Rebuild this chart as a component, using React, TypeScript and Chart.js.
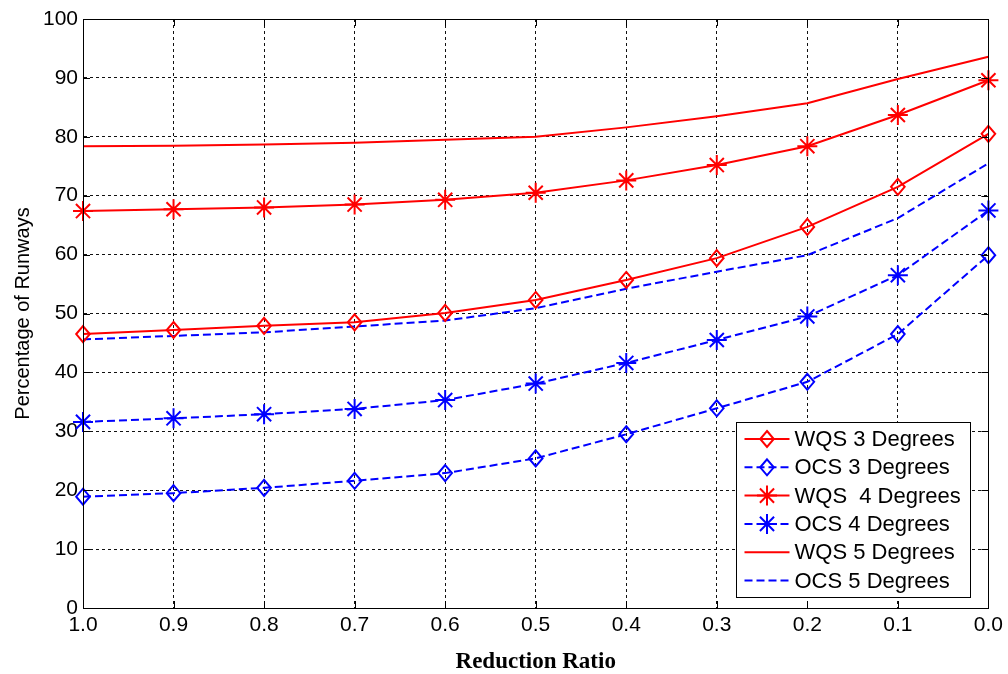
import React, { useEffect, useRef } from "react";
import { Chart, registerables } from "chart.js";

Chart.register(...registerables);

const categories = ["1.0", "0.9", "0.8", "0.7", "0.6", "0.5", "0.4", "0.3", "0.2", "0.1", "0.0"];
const wqs3 = [46.5, 47.2, 47.9, 48.5, 50.1, 52.3, 55.7, 59.4, 64.7, 71.5, 80.5];
const ocs3 = [18.9, 19.5, 20.4, 21.6, 22.9, 25.4, 29.5, 33.9, 38.4, 46.5, 59.9];
const wqs4 = [67.4, 67.7, 68.0, 68.5, 69.3, 70.5, 72.6, 75.2, 78.4, 83.7, 89.6];
const ocs4 = [31.6, 32.2, 32.9, 33.8, 35.3, 38.1, 41.6, 45.5, 49.5, 56.5, 67.5];
const wqs5 = [78.4, 78.5, 78.7, 79.0, 79.5, 80.0, 81.6, 83.5, 85.7, 89.8, 93.6];
const ocs5 = [45.6, 46.2, 46.8, 47.8, 48.8, 50.9, 54.2, 57.1, 59.9, 66.2, 75.5];
const seriesNames = ["WQS 3 Degrees", "OCS 3 Degrees", "WQS  4 Degrees", "OCS 4 Degrees", "WQS 5 Degrees", "OCS 5 Degrees"];
const yTicks = [0, 10, 20, 30, 40, 50, 60, 70, 80, 90, 100];

const RED = "#ff0000";
const BLUE = "#0000ff";
const DASH = [8, 4];
const SANS = "Arial, 'Liberation Sans', sans-serif";

function drawMarker(ctx: CanvasRenderingContext2D, style: string | false, x: number, y: number, color: string) {
  if (!style) return;
  ctx.save();
  ctx.setLineDash([]);
  ctx.strokeStyle = color;
  ctx.lineWidth = 2;
  ctx.beginPath();
  if (style === "rectRot") {
    const r = 8;
    ctx.moveTo(x, y - r);
    ctx.lineTo(x + r * 0.85, y);
    ctx.lineTo(x, y + r);
    ctx.lineTo(x - r * 0.85, y);
    ctx.closePath();
  } else {
    const r = 10;
    ctx.moveTo(x - r, y);
    ctx.lineTo(x + r, y);
    ctx.moveTo(x, y - r);
    ctx.lineTo(x, y + r);
    const d = r * Math.SQRT1_2;
    ctx.moveTo(x - d, y - d);
    ctx.lineTo(x + d, y + d);
    ctx.moveTo(x - d, y + d);
    ctx.lineTo(x + d, y - d);
  }
  ctx.stroke();
  ctx.restore();
}

const frameAndLegend = {
  id: "frameAndLegend",
  afterDatasetsDraw(chart: any) {
    const ctx: CanvasRenderingContext2D = chart.ctx;
    const a = chart.chartArea;
    ctx.save();
    ctx.setLineDash([]);
    ctx.strokeStyle = "#000";
    ctx.lineWidth = 1;
    ctx.strokeRect(Math.round(a.left) + 0.5, Math.round(a.top) + 0.5, Math.round(a.right - a.left), Math.round(a.bottom - a.top));
    // inward ticks
    const xs = chart.scales.x;
    const ys = chart.scales.y;
    ctx.beginPath();
    for (let i = 0; i < categories.length; i++) {
      const px = Math.round(xs.getPixelForValue(i)) + 0.5;
      ctx.moveTo(px, a.bottom);
      ctx.lineTo(px, a.bottom - 7);
      ctx.moveTo(px, a.top);
      ctx.lineTo(px, a.top + 7);
    }
    for (const v of yTicks) {
      const py = Math.round(ys.getPixelForValue(v)) + 0.5;
      ctx.moveTo(a.left, py);
      ctx.lineTo(a.left + 7, py);
      ctx.moveTo(a.right, py);
      ctx.lineTo(a.right - 7, py);
    }
    ctx.stroke();

    // legend
    const bw = 234, bh = 175;
    const bx = Math.round(a.right - 18 - bw) + 0.5;
    const by = Math.round(a.bottom - 11 - bh) + 0.5;
    ctx.fillStyle = "#fff";
    ctx.fillRect(bx, by, bw, bh);
    ctx.strokeStyle = "#000";
    ctx.lineWidth = 1;
    ctx.strokeRect(bx, by, bw, bh);
    ctx.font = "22px " + SANS;
    ctx.textBaseline = "middle";
    ctx.textAlign = "left";
    chart.data.datasets.forEach((ds: any, i: number) => {
      const cy = by + 16.5 + i * 28.3;
      ctx.save();
      ctx.strokeStyle = ds.borderColor;
      ctx.lineWidth = 2;
      ctx.setLineDash(ds.borderDash || []);
      ctx.beginPath();
      ctx.moveTo(bx + 8, cy);
      ctx.lineTo(bx + 53, cy);
      ctx.stroke();
      ctx.restore();
      drawMarker(ctx, ds.pointStyle, bx + 30.5, cy, ds.borderColor);
      ctx.fillStyle = "#000";
      ctx.fillText(seriesNames[i], bx + 58, cy + 1);
    });
    ctx.restore();
  },
};

const markerPlugin = {
  id: "customMarkers",
  afterDatasetsDraw(chart: any) {
    const ctx = chart.ctx;
    chart.data.datasets.forEach((ds: any, i: number) => {
      const meta = chart.getDatasetMeta(i);
      if (!ds.pointStyle) return;
      meta.data.forEach((pt: any) => drawMarker(ctx, ds.pointStyle, pt.x, pt.y, ds.borderColor));
    });
  },
};

function mk(label: string, data: number[], color: string, dashed: boolean, marker: string | false) {
  return {
    label,
    data,
    borderColor: color,
    backgroundColor: color,
    borderWidth: 2,
    borderDash: dashed ? DASH : [],
    pointStyle: marker,
    pointRadius: 0,
    tension: 0,
    fill: false,
  };
}

export default function App() {
  const ref = useRef<HTMLCanvasElement | null>(null);
  useEffect(() => {
    if (!ref.current) return;
    const chart = new Chart(ref.current, {
      type: "line",
      data: {
        labels: categories,
        datasets: [
          mk(seriesNames[0], wqs3, RED, false, "rectRot"),
          mk(seriesNames[1], ocs3, BLUE, true, "rectRot"),
          mk(seriesNames[2], wqs4, RED, false, "star"),
          mk(seriesNames[3], ocs4, BLUE, true, "star"),
          mk(seriesNames[4], wqs5, RED, false, false),
          mk(seriesNames[5], ocs5, BLUE, true, false),
        ] as any,
      },
      options: {
        responsive: false,
        animation: false,
        layout: { padding: { top: 19, right: 19, left: 0, bottom: 0 } },
        plugins: { legend: { display: false }, tooltip: { enabled: false }, title: { display: false } },
        scales: {
          x: {
            type: "category",
            offset: false,
            grid: { color: "#111", lineWidth: 1, drawTicks: false },
            border: { display: true, color: "#000", dash: [3, 3] },
            ticks: { color: "#000", font: { family: SANS, size: 21 }, padding: 5, maxRotation: 0, autoSkip: false },
            title: {
              display: true,
              text: "Reduction Ratio",
              color: "#000",
              font: { family: "'Times New Roman', 'Liberation Serif', serif", size: 23, weight: "bold", lineHeight: 1 },
              padding: { top: 0, bottom: 0 },
            },
            afterFit(scale: any) {
              scale.height = 66;
            },
          },
          y: {
            min: 0,
            max: 100,
            grid: { color: "#111", lineWidth: 1, drawTicks: false },
            border: { display: true, color: "#000", dash: [3, 3] },
            ticks: { stepSize: 10, color: "#000", font: { family: SANS, size: 21 }, padding: 5 },
            title: {
              display: true,
              text: "Percentage of Runways",
              color: "#000",
              font: { family: SANS, size: 20, lineHeight: 1 },
              padding: { top: 13, bottom: 0 },
            },
            afterFit(scale: any) {
              scale.width = 83;
            },
          },
        },
      } as any,
      plugins: [markerPlugin, frameAndLegend],
    });
    return () => chart.destroy();
  }, []);
  return (
    <div style={{ position: "fixed", left: 0, top: 0, width: 1008, height: 674, background: "#fff" }}>
      <canvas ref={ref} width={1008} height={674} style={{ display: "block" }} />
    </div>
  );
}
